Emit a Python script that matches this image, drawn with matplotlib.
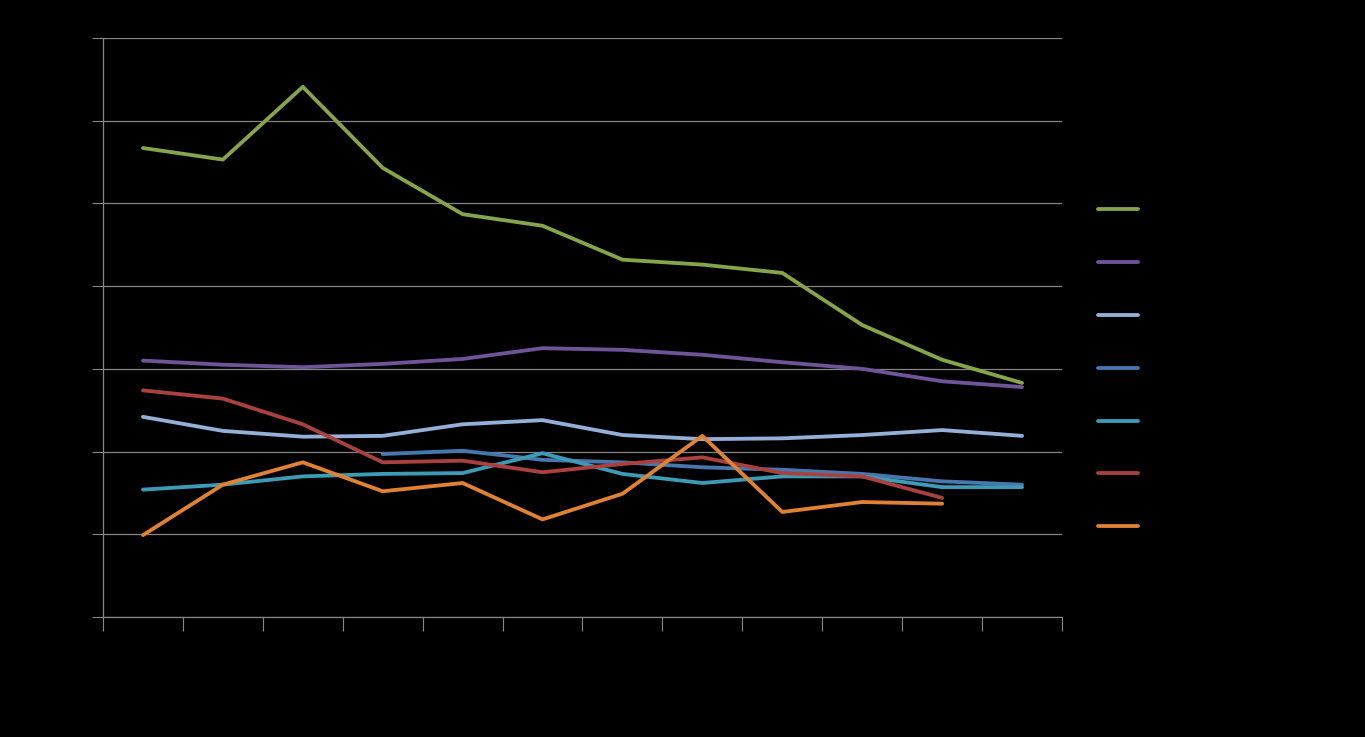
"""Seven series line chart on black background (no visible text)."""
import matplotlib
matplotlib.use("Agg")
import matplotlib.pyplot as plt
import numpy as np

categories = list(range(1, 13))

green = [5.67, 5.53, 6.41, 5.43, 4.87, 4.73, 4.32, 4.26, 4.16, 3.53, 3.11, 2.83]
purple = [3.10, 3.05, 3.02, 3.06, 3.12, 3.25, 3.23, 3.17, 3.08, 3.00, 2.85, 2.78]
light_blue = [2.42, 2.25, 2.18, 2.19, 2.33, 2.38, 2.20, 2.15, 2.16, 2.20, 2.26, 2.19]
dark_blue = [None, None, None, 1.97, 2.01, 1.90, 1.87, 1.81, 1.78, 1.73, 1.64, 1.60]
teal = [1.54, 1.60, 1.70, 1.73, 1.74, 1.98, 1.73, 1.62, 1.70, 1.70, 1.57, 1.57]
red = [2.74, 2.64, 2.33, 1.87, 1.89, 1.75, 1.85, 1.93, 1.74, 1.70, 1.44, None]
orange = [0.99, 1.60, 1.87, 1.52, 1.62, 1.18, 1.49, 2.19, 1.27, 1.39, 1.37, None]

series = [green, purple, light_blue, dark_blue, teal, red, orange]
colors = ["#86a44a", "#6f5597", "#95b0d8", "#4677ad", "#3d9bb6", "#a9423f", "#e08234"]

fig = plt.figure(figsize=(13.65, 7.37), dpi=100, facecolor="black")
ax = fig.add_axes([103 / 1365, 1 - 617 / 737, (1062 - 103) / 1365, (617 - 38) / 737])
ax.set_facecolor("black")

x = np.arange(len(categories))
handles = []
for vals, c in zip(series, colors):
    y = np.array([np.nan if v is None else v for v in vals], dtype=float)
    (h,) = ax.plot(x, y, color=c, lw=2.75, solid_capstyle="round", solid_joinstyle="round", zorder=3)
    handles.append(h)

ax.set_xlim(-0.5, len(categories) - 0.5)
ax.set_ylim(0, 7)
ax.set_yticks(range(0, 8))
ax.set_xticks(np.arange(-0.5, len(categories), 1.0))
ax.yaxis.grid(True, color="#868686", lw=0.9)
ax.set_axisbelow(True)
ax.tick_params(axis="y", length=8, color="#868686", labelleft=False, direction="out")
ax.tick_params(axis="x", length=10, color="#868686", labelbottom=False, direction="out")
for side in ["top", "right"]:
    ax.spines[side].set_visible(False)
for side in ["left", "bottom"]:
    ax.spines[side].set_color("#868686")
    ax.spines[side].set_linewidth(0.9)

fig.legend(handles, [" "] * len(handles), loc="center left",
           bbox_to_anchor=(1091 / 1365, 1 - 368.5 / 737), frameon=False,
           handlelength=2.85, labelspacing=2.8, borderpad=0, fontsize=10)

fig.savefig("out.png", dpi=100, facecolor="black")
